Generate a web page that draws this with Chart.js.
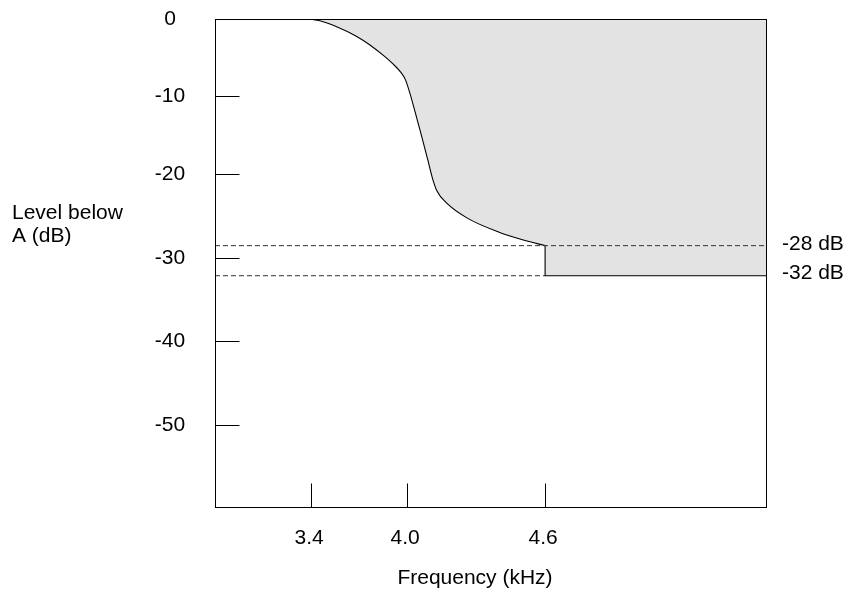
<!DOCTYPE html>
<html>
<head>
<meta charset="utf-8">
<title>Level below A</title>
<script src="https://cdn.jsdelivr.net/npm/chart.js@4.4.1/dist/chart.umd.min.js"></script>
<style>
  html, body { margin: 0; padding: 0; background: #fff; }
  #wrap { width: 846px; height: 594px; }
</style>
</head>
<body>
<div id="wrap"><canvas id="chart" width="846" height="594"></canvas></div>
<script>
// values (x in kHz, y in dB)
const freqTicks = [3.4, 4.0, 4.6];
const levelTicks = [0, -10, -20, -30, -40, -50];
const maskFreq = [3.38, 3.46, 3.56, 3.68, 3.77, 3.85, 3.91, 3.96, 3.99,
                  4.05, 4.09, 4.11, 4.13, 4.17, 4.26, 4.40, 4.51, 4.60];
const maskLevel = [0, -0.26, -1.0, -2.2, -3.4, -4.7, -5.8, -6.9, -7.9,
                   -13.7, -18.2, -20.45, -21.9, -23.2, -24.9, -26.5, -27.4, -28];
const stepFreq = [4.6, 4.6, 5.6];
const stepLevel = [-28, -32, -32];
const limitLevels = [-28, -32];
const limitEnds = [5.6, 4.6];
const limitLabels = ['-28 dB', '-32 dB'];
const xTitle = 'Frequency (kHz)';
const yTitle = ['Level below', 'A (dB)'];

const FONT = '21px "Liberation Sans", Arial, sans-serif';

// the drawing is schematic: axes are not evenly spaced, so map value -> position piecewise
function toDecimal(breaks, v) {
    if (v <= breaks[0][0]) return breaks[0][1];
    for (let i = 1; i < breaks.length; i++) {
        const [v1, d1] = breaks[i];
        const [v0, d0] = breaks[i - 1];
        if (v <= v1) return d0 + (v - v0) / (v1 - v0) * (d1 - d0);
    }
    return breaks[breaks.length - 1][1];
}
function fromDecimal(breaks, d) {
    for (let i = 1; i < breaks.length; i++) {
        const [v1, d1] = breaks[i];
        const [v0, d0] = breaks[i - 1];
        if (d <= d1) return v0 + (d - d0) / (d1 - d0) * (v1 - v0);
    }
    return breaks[breaks.length - 1][0];
}

class PiecewiseScale extends Chart.LinearScale {
    getPixelForValue(value) {
        return this.getPixelForDecimal(toDecimal(this.options.breaks, value));
    }
    getValueForPixel(pixel) {
        return fromDecimal(this.options.breaks, this.getDecimalForPixel(pixel));
    }
}
PiecewiseScale.id = 'piecewise';
PiecewiseScale.defaults = Chart.LinearScale.defaults;
Chart.register(PiecewiseScale);

const xBreaks = [[2.8, 0], [3.4, 0.174], [4.0, 0.348], [4.6, 0.598], [5.6, 1]];
const yBreaks = [[-60, 0], [-50, 0.170], [-40, 0.3415], [-32, 0.475], [-30, 0.511],
                 [-28, 0.5365], [-20, 0.683], [-10, 0.8425], [0, 1]];

const pts = (xs, ys) => xs.map((x, i) => ({ x: x, y: ys[i] }));

// frame, inward tick marks and all the text
const axisDecor = {
    id: 'axisDecor',
    afterDatasetsDraw(chart) {
        const { ctx, chartArea: a, scales: { x, y } } = chart;
        ctx.save();
        ctx.strokeStyle = '#000';
        ctx.lineWidth = 1;
        const L = Math.round(a.left) + 0.5, R = Math.round(a.right) - 0.5;
        const T = Math.round(a.top) + 0.5, B = Math.round(a.bottom) - 0.5;
        ctx.strokeRect(L, T, R - L, B - T);

        ctx.beginPath();
        levelTicks.forEach(v => {
            const py = Math.round(y.getPixelForValue(v)) + 0.5;
            ctx.moveTo(L, py);
            ctx.lineTo(L + 24, py);
        });
        freqTicks.forEach(v => {
            const px = Math.round(x.getPixelForValue(v)) + 0.5;
            ctx.moveTo(px, B);
            ctx.lineTo(px, B - 24);
        });
        ctx.stroke();

        ctx.fillStyle = '#000';
        ctx.font = FONT;
        ctx.textBaseline = 'middle';
        ctx.textAlign = 'center';
        levelTicks.forEach(v => {
            ctx.fillText(String(v), a.left - 45, y.getPixelForValue(v));
        });
        freqTicks.forEach(v => {
            ctx.fillText(v.toFixed(1), x.getPixelForValue(v) - 2, a.bottom + 30);
        });
        ctx.fillText(xTitle, (a.left + a.right) / 2 - 16, a.bottom + 70);

        ctx.textAlign = 'left';
        ctx.fillText(yTitle[0], 12, 213);
        ctx.fillText(yTitle[1], 12, 236);
        ctx.fillText(limitLabels[0], a.right + 15, y.getPixelForValue(limitLevels[0]) - 1);
        ctx.fillText(limitLabels[1], a.right + 15, y.getPixelForValue(limitLevels[1]) - 3);
        ctx.restore();
    }
};

new Chart(document.getElementById('chart'), {
    type: 'line',
    data: {
        datasets: [
            {
                label: 'limit -28',
                data: pts([xBreaks[0][0], limitEnds[0]], [limitLevels[0], limitLevels[0]]),
                borderColor: '#333',
                borderWidth: 1,
                borderDash: [5, 3],
                pointRadius: 0,
                fill: false,
                order: 0
            },
            {
                label: 'limit -32',
                data: pts([xBreaks[0][0], limitEnds[1]], [limitLevels[1], limitLevels[1]]),
                borderColor: '#333',
                borderWidth: 1,
                borderDash: [5, 3],
                pointRadius: 0,
                fill: false,
                order: 0
            },
            {
                label: 'mask',
                data: pts(maskFreq, maskLevel),
                borderColor: '#000',
                borderWidth: 1.1,
                backgroundColor: '#e3e3e3',
                cubicInterpolationMode: 'monotone',
                pointRadius: 0,
                fill: 'end',
                order: 1
            },
            {
                label: 'mask step',
                data: pts(stepFreq, stepLevel),
                borderColor: '#000',
                borderWidth: 1.1,
                backgroundColor: '#e3e3e3',
                tension: 0,
                pointRadius: 0,
                fill: 'end',
                order: 2
            }
        ]
    },
    options: {
        responsive: false,
        animation: false,
        layout: { padding: { left: 215, top: 19, right: 79, bottom: 86 } },
        scales: {
            x: { type: 'piecewise', min: 2.8, max: 5.6, breaks: xBreaks, display: false },
            y: { type: 'piecewise', min: -60, max: 0, breaks: yBreaks, display: false }
        },
        plugins: {
            legend: { display: false },
            tooltip: { enabled: false }
        }
    },
    plugins: [axisDecor]
});
</script>
</body>
</html>
